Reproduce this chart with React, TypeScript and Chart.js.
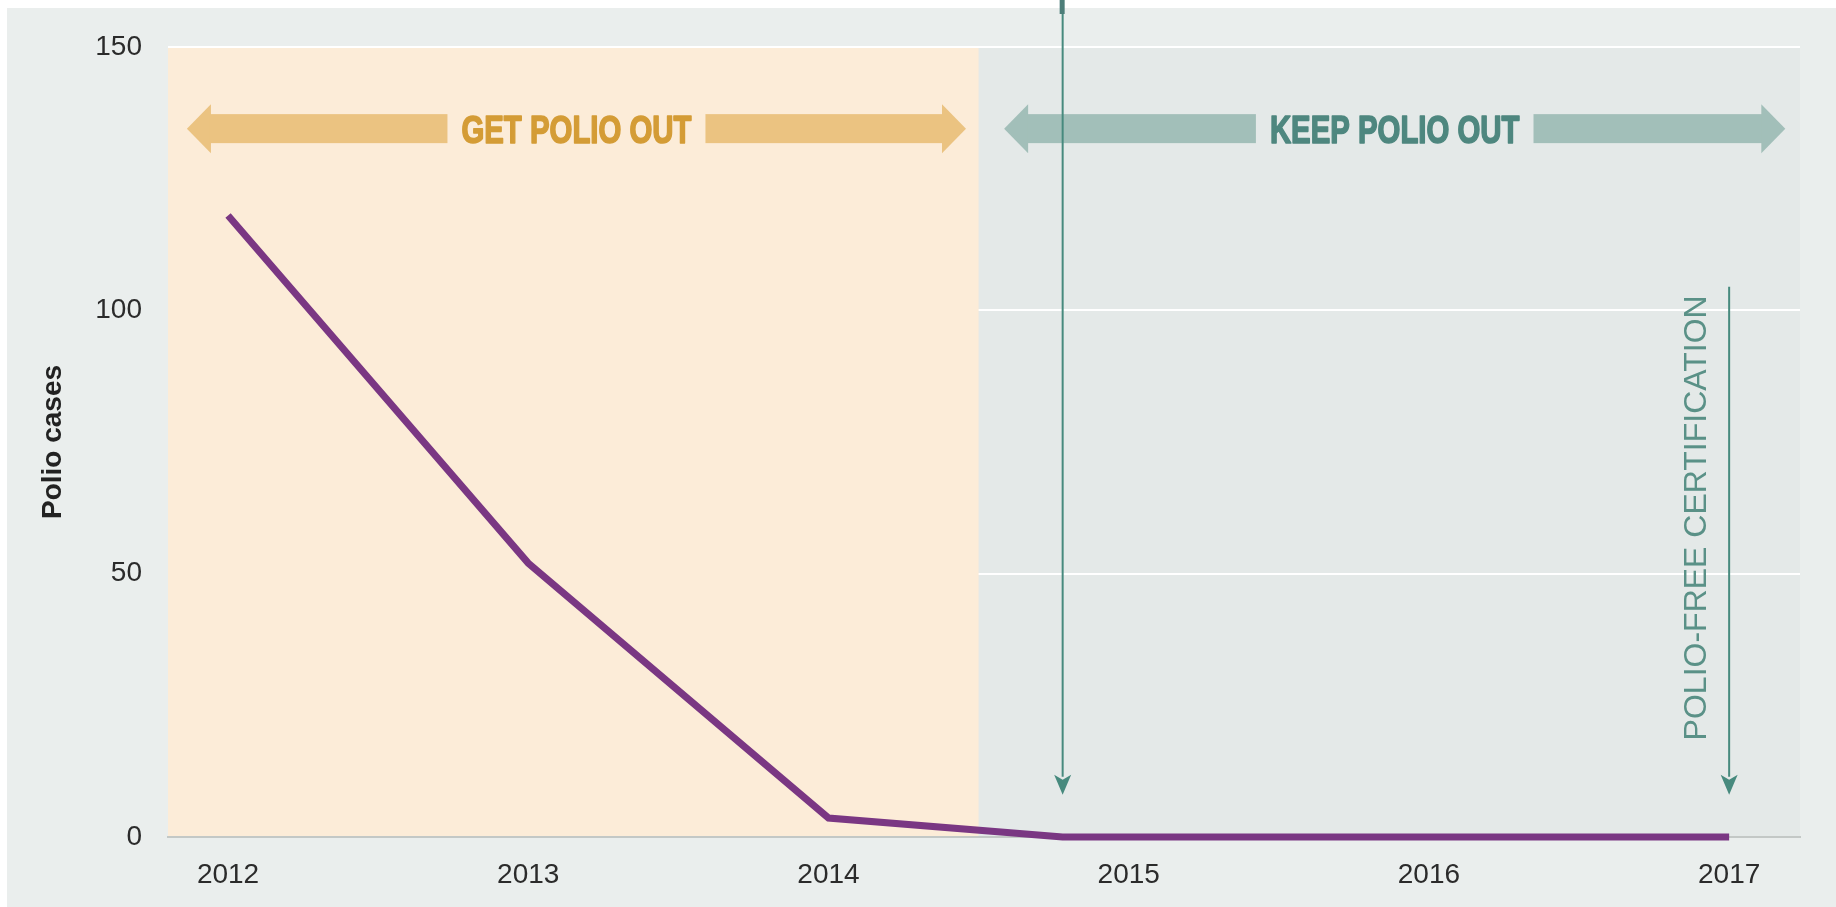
import React, { useEffect, useRef } from "react";
import { Chart, registerables } from "chart.js";

Chart.register(...registerables);

// ---- data ----
const years = [2012, 2013, 2014, 2014.78, 2017];
const polioCases = [118, 52, 3.6, 0, 0];
const xTickYears = [2012, 2013, 2014, 2015, 2016, 2017];
const yTickValues = [0, 50, 100, 150];
const yAxisTitle = "Polio cases";

// phases (background bands and double arrows)
const phaseLabels = ["GET POLIO OUT", "KEEP POLIO OUT"];
const phaseStarts = [2011.8, 2014.5];
const phaseEnds = [2014.5, 2017.236];
const phaseArrowFrom = [2011.863, 2014.585];
const phaseArrowTo = [2014.458, 2017.187];
const phaseArrowLevel = 134.5;

// vertical markers
const markerYears = [2014.78, 2017];
const markerTopValues = [null, 104.5];
const markerTipValue = 8;
const certificationLabel = "POLIO-FREE CERTIFICATION";
const certificationLabelYear = 2016.883;
const certificationLabelValue = 60.6;

const FONT = "'Liberation Sans', Arial, Helvetica, sans-serif";

const COLORS = {
  page: "#ffffff",
  outer: "#eaeeed",
  plot: "#e4e9e8",
  peach: "#fcecd8",
  line: "#7a3783",
  grid: "#ffffff",
  axis: "#c3c8c6",
  getArrow: "#ebc381",
  getText: "#d49c36",
  keepArrow: "#a2bfb9",
  keepText: "#4e877f",
  marker: "#478a7e",
  markerTop: "#4d7e79",
  certText: "#5a9187",
  tick: "#2b2b2b",
};

const decorPlugin = {
  id: "decor",
  beforeDraw(chart: any) {
    const { ctx, chartArea, width, height } = chart;
    ctx.save();
    ctx.fillStyle = COLORS.page;
    ctx.fillRect(0, 0, width, height);
    ctx.fillStyle = COLORS.outer;
    ctx.fillRect(7, 8, width - 7, height - 8);
    ctx.fillStyle = COLORS.plot;
    ctx.fillRect(chartArea.left, chartArea.top, chartArea.right - chartArea.left, chartArea.bottom - chartArea.top);
    ctx.restore();
  },
  beforeDatasetsDraw(chart: any) {
    const { ctx, chartArea, scales } = chart;
    const x = scales.x;
    ctx.save();
    ctx.fillStyle = COLORS.peach;
    const x0 = x.getPixelForValue(phaseStarts[0]);
    const x1 = x.getPixelForValue(phaseEnds[0]);
    ctx.fillRect(x0, chartArea.top + 1, x1 - x0, chartArea.bottom - chartArea.top - 2);
    ctx.restore();
  },
  afterDatasetsDraw(chart: any) {
    const { ctx, scales } = chart;
    const x = scales.x;
    const y = scales.y;

    // double arrows with labels
    const yc = y.getPixelForValue(phaseArrowLevel);
    const shaftH = 14.5;
    const headH = 24.5;
    const headL = 24;
    const gap = 14;
    ctx.save();
    ctx.font = `bold 39px ${FONT}`;
    const sx = 230 / ctx.measureText(phaseLabels[0]).width;
    ctx.restore();

    phaseLabels.forEach((label, i) => {
      const xa = x.getPixelForValue(phaseArrowFrom[i]);
      const xb = x.getPixelForValue(phaseArrowTo[i]);
      const cx = (xa + xb) / 2;
      ctx.save();
      ctx.font = `bold 39px ${FONT}`;
      const tw = ctx.measureText(label).width * sx;
      const arrowCol = i === 0 ? COLORS.getArrow : COLORS.keepArrow;
      const textCol = i === 0 ? COLORS.getText : COLORS.keepText;
      ctx.fillStyle = arrowCol;
      // left head
      ctx.beginPath();
      ctx.moveTo(xa, yc);
      ctx.lineTo(xa + headL, yc - headH);
      ctx.lineTo(xa + headL, yc + headH);
      ctx.closePath();
      ctx.fill();
      // left shaft
      ctx.fillRect(xa + headL - 1, yc - shaftH, cx - tw / 2 - gap - (xa + headL - 1), shaftH * 2);
      // right shaft
      const rs = cx + tw / 2 + gap;
      ctx.fillRect(rs, yc - shaftH, xb - headL + 1 - rs, shaftH * 2);
      // right head
      ctx.beginPath();
      ctx.moveTo(xb, yc);
      ctx.lineTo(xb - headL, yc - headH);
      ctx.lineTo(xb - headL, yc + headH);
      ctx.closePath();
      ctx.fill();
      // text (heavy condensed look)
      ctx.fillStyle = textCol;
      ctx.strokeStyle = textCol;
      ctx.lineWidth = 1.6;
      ctx.lineJoin = "round";
      ctx.textAlign = "center";
      ctx.textBaseline = "alphabetic";
      ctx.translate(cx, yc + 14);
      ctx.scale(sx, 1);
      ctx.fillText(label, 0, 0);
      ctx.strokeText(label, 0, 0);
      ctx.restore();
    });

    // vertical marker arrows
    const tipY = y.getPixelForValue(markerTipValue);
    markerYears.forEach((yr, i) => {
      const mx = x.getPixelForValue(yr);
      const topVal = markerTopValues[i];
      const topY = topVal === null ? 0 : y.getPixelForValue(topVal);
      ctx.save();
      ctx.strokeStyle = COLORS.marker;
      ctx.fillStyle = COLORS.marker;
      ctx.lineWidth = 2;
      ctx.beginPath();
      ctx.moveTo(mx, topY);
      ctx.lineTo(mx, tipY - 18);
      ctx.stroke();
      ctx.beginPath();
      ctx.moveTo(mx, tipY);
      ctx.lineTo(mx - 8.5, tipY - 20);
      ctx.lineTo(mx, tipY - 15);
      ctx.lineTo(mx + 8.5, tipY - 20);
      ctx.closePath();
      ctx.fill();
      if (topVal === null) {
        ctx.fillStyle = COLORS.markerTop;
        ctx.fillRect(mx - 3, 0, 5, 14);
      }
      ctx.restore();
    });

    // certification label (rotated)
    ctx.save();
    const lx = x.getPixelForValue(certificationLabelYear);
    const ly = y.getPixelForValue(certificationLabelValue);
    ctx.font = `32px ${FONT}`;
    ctx.fillStyle = COLORS.certText;
    ctx.textAlign = "center";
    ctx.textBaseline = "alphabetic";
    ctx.translate(lx, ly);
    ctx.rotate(-Math.PI / 2);
    ctx.fillText(certificationLabel, 0, 11.5);
    ctx.restore();
  },
};

export default function App() {
  const canvasRef = useRef<HTMLCanvasElement | null>(null);

  useEffect(() => {
    document.body.style.margin = "0";
    document.body.style.overflow = "hidden";
    const canvas = canvasRef.current;
    if (!canvas) return;

    const chart = new Chart(canvas, {
      type: "line",
      data: {
        datasets: [
          {
            label: yAxisTitle,
            data: years.map((yr, i) => ({ x: yr, y: polioCases[i] })),
            borderColor: COLORS.line,
            borderWidth: 7,
            borderCapStyle: "butt",
            borderJoinStyle: "miter",
            pointRadius: 0,
            tension: 0,
            fill: false,
            clip: false,
          },
        ],
      },
      options: {
        animation: false,
        responsive: false,
        devicePixelRatio: 1,
        layout: { padding: { left: 0, right: 36, top: 47, bottom: 0 } },
        plugins: {
          legend: { display: false },
          tooltip: { enabled: false },
        },
        scales: {
          x: {
            type: "linear",
            min: 2011.8,
            max: 2017.236,
            afterFit: (s: any) => {
              s.height = 70;
            },
            afterBuildTicks: (s: any) => {
              s.ticks = xTickYears.map((v) => ({ value: v }));
            },
            grid: { display: false, drawTicks: false },
            border: { display: true, color: COLORS.axis, width: 2 },
            ticks: {
              padding: 21,
              color: COLORS.tick,
              font: { family: FONT, size: 28 },
              maxRotation: 0,
              autoSkip: false,
              callback: (v: any) => String(v),
            },
          },
          y: {
            type: "linear",
            min: 0,
            max: 150,
            afterFit: (s: any) => {
              s.width = 168;
            },
            afterBuildTicks: (s: any) => {
              s.ticks = yTickValues.map((v) => ({ value: v }));
            },
            grid: {
              drawTicks: false,
              lineWidth: 2,
              color: (c: any) => (c.tick && c.tick.value === 0 ? COLORS.axis : COLORS.grid),
            },
            border: { display: false },
            ticks: {
              padding: 26,
              color: COLORS.tick,
              font: { family: FONT, size: 28 },
              callback: (v: any) => String(v),
            },
            title: {
              display: true,
              text: yAxisTitle,
              color: "#222222",
              font: { family: FONT, size: 28, weight: "bold" },
              padding: { top: 36, bottom: 0 },
            },
          },
        },
      },
      plugins: [decorPlugin],
    } as any);

    return () => {
      chart.destroy();
    };
  }, []);

  return (
    <div style={{ width: 1836, height: 907 }}>
      <canvas ref={canvasRef} width={1836} height={907} style={{ display: "block" }} />
    </div>
  );
}
